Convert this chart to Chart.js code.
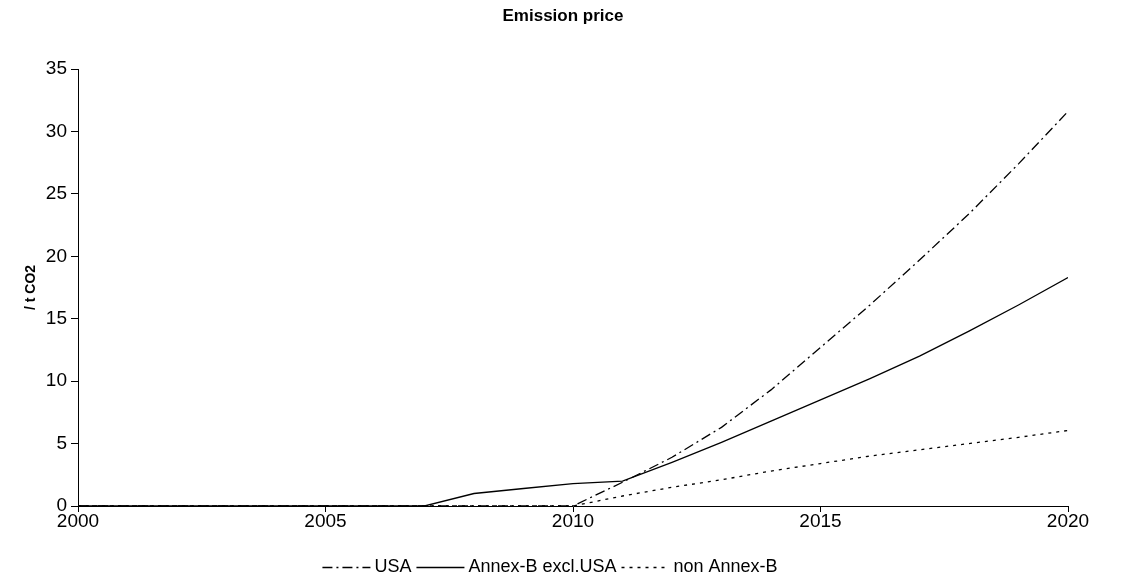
<!DOCTYPE html>
<html>
<head>
<meta charset="utf-8">
<script src="https://cdn.jsdelivr.net/npm/chart.js@4/dist/chart.umd.min.js"></script>
<style>
  html, body { margin: 0; padding: 0; background: #fff; }
  #wrap { width: 1126px; height: 579px; position: relative; }
</style>
</head>
<body>
<div id="wrap"><canvas id="c" width="1126" height="579"></canvas></div>
<script>
// Emission price paths, per tonne CO2
const years = [2000, 2001, 2002, 2003, 2004, 2005, 2006, 2007, 2008, 2009, 2010,
               2011, 2012, 2013, 2014, 2015, 2016, 2017, 2018, 2019, 2020];
const usa = [0, 0, 0, 0, 0, 0, 0, 0, 0, 0, 0,
             1.9, 3.9, 6.3, 9.3, 12.7, 16.1, 19.7, 23.4, 27.4, 31.6];
const annexBExclUsa = [0, 0, 0, 0, 0, 0, 0, 0, 1.0, 1.4, 1.8,
                       2.0, 3.5, 5.1, 6.8, 8.5, 10.2, 12.0, 14.0, 16.1, 18.3];
const nonAnnexB = [0, 0, 0, 0, 0, 0, 0, 0, 0, 0, 0,
                   0.8, 1.5, 2.1, 2.8, 3.4, 4.0, 4.5, 5.0, 5.5, 6.05];
const seriesNames = ['USA', 'Annex-B excl.USA', 'non Annex-B'];
const xTicks = [2000, 2005, 2010, 2015, 2020];
const yTicks = [0, 5, 10, 15, 20, 25, 30, 35];

const FONT = "'Liberation Sans', Arial, sans-serif";
const toPoints = vals => years.map((y, i) => ({ x: y, y: vals[i] }));

const dashes = [[10, 4, 2, 4], [], [3, 5]];

// Legend drawn below the x axis: a short line sample followed by the name
const bottomLegend = {
  id: 'bottomLegend',
  afterDraw(chart) {
    const ctx = chart.ctx;
    const sample = 48, gapAfterSample = 4, gapBetween = 5;
    ctx.save();
    ctx.font = '18px ' + FONT;
    ctx.textBaseline = 'middle';
    const items = chart.data.datasets.map(ds => ({
      label: ds.label, dash: ds.borderDash || [], w: ctx.measureText(ds.label).width
    }));
    const total = items.reduce((s, it) => s + sample + gapAfterSample + it.w, 0) + gapBetween * (items.length - 1);
    let x = 550 - total / 2;
    const y = 567;
    items.forEach(it => {
      ctx.beginPath();
      ctx.setLineDash(it.dash);
      ctx.strokeStyle = '#000';
      ctx.lineWidth = 1.3;
      ctx.moveTo(x, y + 0.5);
      ctx.lineTo(x + sample, y + 0.5);
      ctx.stroke();
      ctx.setLineDash([]);
      x += sample + gapAfterSample;
      ctx.fillStyle = '#000';
      ctx.fillText(it.label, x, y);
      x += it.w + gapBetween;
    });
    ctx.restore();
  }
};

const seriesData = [usa, annexBExclUsa, nonAnnexB];

new Chart(document.getElementById('c'), {
  type: 'line',
  data: {
    datasets: seriesData.map((vals, i) => ({
      label: seriesNames[i],
      data: toPoints(vals),
      borderColor: '#000',
      borderWidth: 1.3,
      borderDash: dashes[i],
      pointRadius: 0,
      tension: 0,
      fill: false
    }))
  },
  options: {
    responsive: false,
    animation: false,
    layout: { padding: 0 },
    plugins: {
      legend: { display: false },
      tooltip: { enabled: false },
      title: {
        display: true,
        text: 'Emission price',
        color: '#000',
        font: { family: FONT, size: 17, weight: 'bold' },
        padding: { top: 6, bottom: 42.6 }
      }
    },
    scales: {
      x: {
        type: 'linear',
        min: 2000,
        max: 2020,
        afterFit(scale) { scale.height = 73; },
        afterBuildTicks(scale) { scale.ticks = xTicks.map(v => ({ value: v })); },
        ticks: {
          color: '#000',
          font: { family: FONT, size: 19 },
          padding: -2,
          maxRotation: 0,
          callback: v => String(v)
        },
        grid: { display: true, drawOnChartArea: false, drawTicks: true, tickLength: 6, color: '#000', lineWidth: 1 },
        border: { display: true, color: '#000', width: 1 }
      },
      y: {
        min: 0,
        max: 35,
        afterFit(scale) { scale.width = 78; },
        afterBuildTicks(scale) { scale.ticks = yTicks.map(v => ({ value: v })); },
        ticks: {
          color: '#000',
          font: { family: FONT, size: 19 },
          padding: 4
        },
        title: {
          display: true,
          text: '/ t CO2',
          color: '#000',
          font: { family: FONT, size: 14, weight: 'bold' },
          padding: { top: 23, bottom: 0 }
        },
        grid: { display: true, drawOnChartArea: false, drawTicks: true, tickLength: 7, color: '#000', lineWidth: 1 },
        border: { display: true, color: '#000', width: 1 }
      },
      // empty right-hand strip that keeps the plot clear of the canvas edge
      spacer: {
        type: 'linear',
        position: 'right',
        display: true,
        afterFit(scale) { scale.width = 58; },
        ticks: { display: false },
        grid: { display: false },
        border: { display: false }
      }
    }
  },
  plugins: [bottomLegend]
});
</script>
</body>
</html>
